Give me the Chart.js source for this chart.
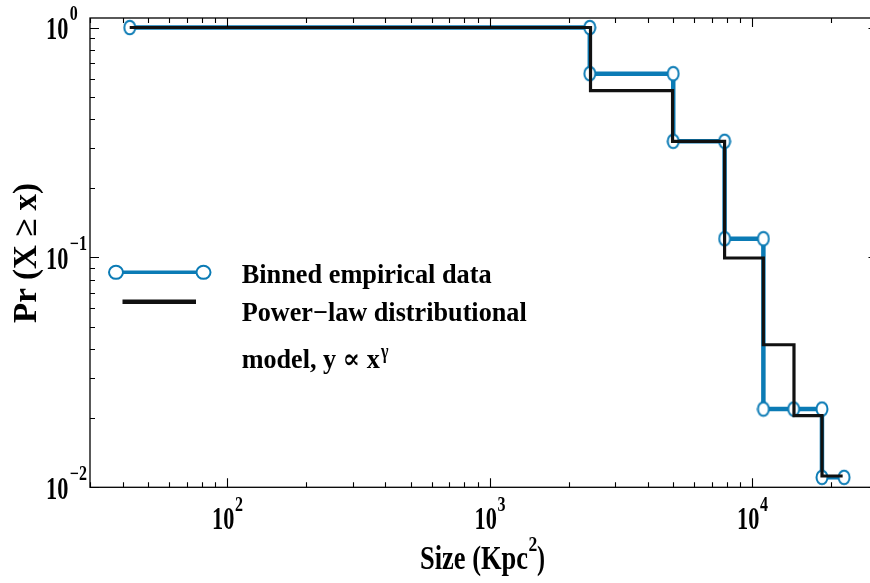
<!DOCTYPE html>
<html>
<head>
<meta charset="utf-8">
<script src="https://cdn.jsdelivr.net/npm/chart.js@4.4.1/dist/chart.umd.min.js"></script>
<style>
  html, body { margin: 0; padding: 0; background: #fff; overflow: hidden; width: 870px; height: 583px; }
  #wrap { width: 878px; height: 583px; }
</style>
</head>
<body>
<div id="wrap"><canvas id="chart" width="878" height="583"></canvas></div>
<script>
// binned empirical CCDF (step corners) and the fitted power-law model
const empSize  = [42.5, 2405, 2405, 5000, 5000, 7845, 7845, 11025, 11025, 14380, 18430, 18430, 22380];
const empProb  = [1.0, 1.0, 0.63, 0.63, 0.32, 0.32, 0.1206, 0.1206, 0.0219, 0.0219, 0.0219, 0.01105, 0.01105];
const modelSize = [42.5, 2420, 4970, 7845, 11020, 14420, 18440, 22100];
const modelProb = [1.0, 0.532, 0.32, 0.0994, 0.0417, 0.0205, 0.0112, 0.0112];

const xTickExps = [2, 3, 4];
const yTickExps = [0, -1, -2];
const legendLabels = ['Binned empirical data', 'Power\u2212law distributional', 'model, y \u221D x'];
const xTitle = 'Size (Kpc';
const yTitle = 'Pr (X \u2265 x)';

const BLUE = '#0b7bb5';
const INK = '#111';
const SERIF = '"Liberation Serif", "DejaVu Serif", serif';

function font(size){ return 'bold ' + size + 'px ' + SERIF; }
function widthOf(ctx, s, size, sx){ ctx.font = font(size); return ctx.measureText(s).width * sx; }
function put(ctx, s, x, y, size, sx){
  ctx.save(); ctx.font = font(size); ctx.textAlign = 'left'; ctx.textBaseline = 'alphabetic';
  ctx.translate(x, y); ctx.scale(sx, 1); ctx.fillText(s, 0, 0); ctx.restore();
}
// squeeze a string into a target width
function fit(ctx, s, x, y, size, w){ ctx.font = font(size); put(ctx, s, x, y, size, w / ctx.measureText(s).width); }

// hollow, slightly tall marker like the original
function ellipseMarker(rx, ry, lw){
  const c = document.createElement('canvas');
  c.width = Math.ceil(2 * rx + lw + 1); c.height = Math.ceil(2 * ry + lw + 1);
  const g = c.getContext('2d');
  g.fillStyle = '#fff'; g.strokeStyle = BLUE; g.lineWidth = lw;
  g.beginPath(); g.ellipse(c.width / 2, c.height / 2, rx, ry, 0, 0, Math.PI * 2); g.fill(); g.stroke();
  return c;
}
const marker = ellipseMarker(5.5, 6.8, 2);

const frame = {
  id: 'frame',
  afterDraw(chart){
    const ctx = chart.ctx, a = chart.chartArea, xs = chart.scales.x, ys = chart.scales.y;
    ctx.save();
    ctx.strokeStyle = '#000'; ctx.lineWidth = 1.3;
    ctx.strokeRect(a.left, a.top, a.right - a.left, a.bottom - a.top);

    // log ticks, inward on all four sides
    ctx.lineWidth = 1.1;
    ctx.beginPath();
    for (let e = 1; e <= 4; e++) for (let k = 1; k <= 9; k++) {
      const v = k * Math.pow(10, e);
      if (v < xs.min || v > xs.max) continue;
      const px = Math.round(xs.getPixelForValue(v)) + 0.5, len = k === 1 ? 9 : 5;
      ctx.moveTo(px, a.bottom); ctx.lineTo(px, a.bottom - len);
      ctx.moveTo(px, a.top); ctx.lineTo(px, a.top + len);
    }
    for (let e = -2; e <= 0; e++) for (let k = 1; k <= 9; k++) {
      const v = k * Math.pow(10, e);
      if (v < ys.min || v > ys.max) continue;
      const py = Math.round(ys.getPixelForValue(v)) + 0.5, len = k === 1 ? 9 : 5;
      ctx.moveTo(a.left, py); ctx.lineTo(a.left + len, py);
      ctx.moveTo(a.right, py); ctx.lineTo(a.right - len, py);
    }
    ctx.stroke();

    ctx.fillStyle = '#000';
    const sx = 0.72;
    // x tick labels 10^n centred on the tick
    xTickExps.forEach(n => {
      const px = xs.getPixelForValue(Math.pow(10, n));
      const sup = String(n).replace('-', '\u2212');
      const w1 = widthOf(ctx, '10', 31, sx), w2 = widthOf(ctx, sup, 20, 0.8);
      const x0 = px - (w1 + w2) / 2;
      put(ctx, '10', x0, a.bottom + 42, 31, sx);
      put(ctx, sup, x0 + w1 + 0.5, a.bottom + 24, 20, 0.8);
    });
    // y tick labels
    yTickExps.forEach(n => {
      const py = ys.getPixelForValue(Math.pow(10, n));
      const sup = String(n).replace('-', '\u2212');
      const w1 = widthOf(ctx, '10', 31, sx);
      put(ctx, '10', 46, py + 11.5, 31, sx);
      put(ctx, sup, 46 + w1 + 1.5, py - 7.5, 20, 0.8);
    });

    // axis titles
    fit(ctx, xTitle, 420, 569, 33, 108);
    put(ctx, '2', 528.5, 551, 22, 0.8);
    fit(ctx, ')', 537, 569, 33, 8);

    ctx.save();
    ctx.translate(36, 253); ctx.rotate(-Math.PI / 2);
    fit(ctx, yTitle, -70, 0, 33, 140);
    ctx.restore();

    // legend inside the axes
    ctx.lineCap = 'butt';
    ctx.strokeStyle = BLUE; ctx.lineWidth = 3.5;
    ctx.beginPath(); ctx.moveTo(116, 272.3); ctx.lineTo(203.5, 272.3); ctx.stroke();
    ctx.lineWidth = 2; ctx.fillStyle = '#fff';
    [116, 203.5].forEach(cx => {
      ctx.beginPath(); ctx.ellipse(cx, 272.3, 7, 6.5, 0, 0, Math.PI * 2); ctx.fill(); ctx.stroke();
    });
    ctx.strokeStyle = INK; ctx.lineWidth = 4.5;
    ctx.beginPath(); ctx.moveTo(122.5, 301.7); ctx.lineTo(196, 301.7); ctx.stroke();

    ctx.fillStyle = '#000';
    fit(ctx, legendLabels[0], 241.7, 283.3, 27, 250);
    fit(ctx, legendLabels[1], 241.7, 321, 27, 285);
    fit(ctx, legendLabels[2], 241.7, 368.3, 27, 138);
    put(ctx, '\u03B3', 381, 358, 20, 0.8);
    ctx.restore();
  }
};

new Chart(document.getElementById('chart'), {
  type: 'line',
  data: {
    datasets: [
      {
        label: legendLabels[0],
        data: empSize.map((x, i) => ({ x, y: empProb[i] })),
        borderColor: BLUE, borderWidth: 4.5, tension: 0,
        pointStyle: marker, pointRadius: 7,
        order: 2
      },
      {
        label: legendLabels[1],
        data: modelSize.map((x, i) => ({ x, y: modelProb[i] })),
        stepped: true, borderColor: INK, borderWidth: 3.2, pointRadius: 0,
        order: 1
      }
    ]
  },
  options: {
    responsive: false, animation: false, devicePixelRatio: 1,
    layout: { autoPadding: false, padding: { left: 90, top: 18, right: 0.5, bottom: 95.7 } },
    plugins: { legend: { display: false }, tooltip: { enabled: false } },
    scales: {
      x: { type: 'logarithmic', min: 30, max: 30000, display: false },
      y: { type: 'logarithmic', min: 0.01, max: 1.1, display: false }
    }
  },
  plugins: [frame]
});
</script>
</body>
</html>
